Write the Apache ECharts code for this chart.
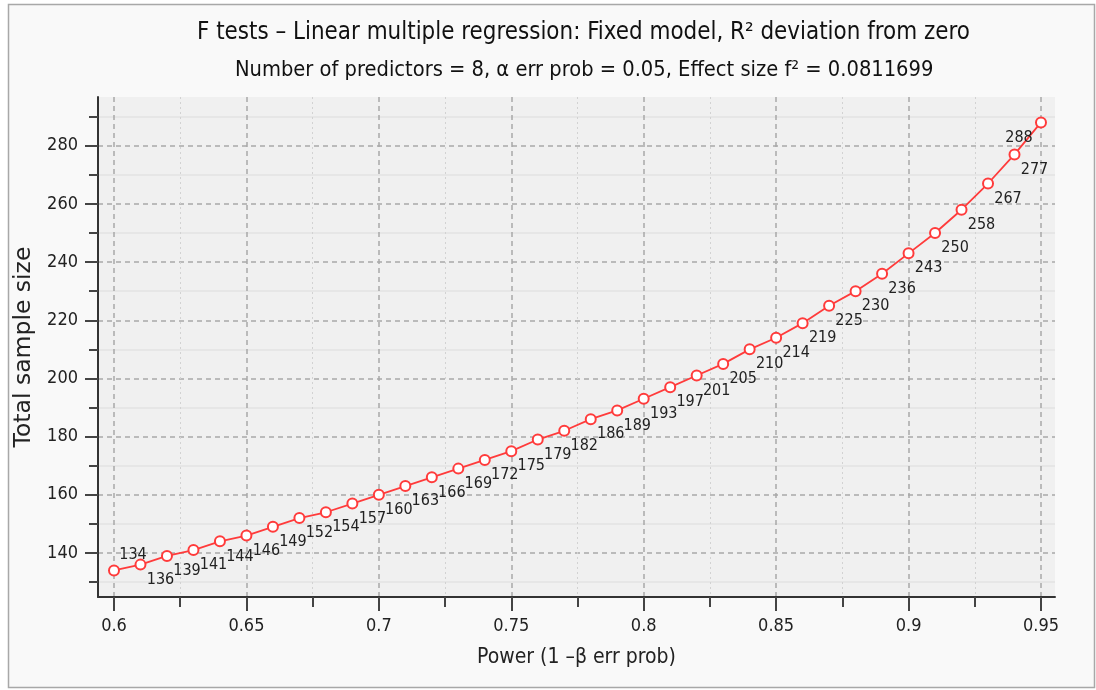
<!DOCTYPE html>
<html>
<head>
<meta charset="utf-8">
<script src="https://cdn.jsdelivr.net/npm/echarts@6/dist/echarts.min.js"></script>
<style>html,body{margin:0;padding:0;background:#fff;}#c{width:1096px;height:690px;}</style>
</head>
<body>
<div id="c"></div>
<script>
// ---- data ----
const powers = [0.60,0.61,0.62,0.63,0.64,0.65,0.66,0.67,0.68,0.69,0.70,0.71,0.72,0.73,0.74,0.75,0.76,0.77,0.78,0.79,0.80,0.81,0.82,0.83,0.84,0.85,0.86,0.87,0.88,0.89,0.90,0.91,0.92,0.93,0.94,0.95];
const sampleSizes = [134,136,139,141,144,146,149,152,154,157,160,163,166,169,172,175,179,182,186,189,193,197,201,205,210,214,219,225,230,236,243,250,258,267,277,288];
const xMajorTicks = [0.6,0.65,0.7,0.75,0.8,0.85,0.9,0.95];
const xMinorTicks = [0.625,0.675,0.725,0.775,0.825,0.875,0.925];
const yMajorTicks = [140,160,180,200,220,240,260,280];
const yMinorTicks = [130,150,170,190,210,230,250,270,290];
const titleText = 'F tests \u2013 Linear multiple regression: Fixed model, R\u00b2 deviation from zero';
const subtitleText = 'Number of predictors = 8, \u03b1 err prob = 0.05, Effect size f\u00b2 = 0.0811699';
const xName = 'Power (1 \u2013\u03b2 err prob)';
const yName = 'Total sample size';

const chart = echarts.init(document.getElementById('c'), null, {renderer: 'canvas'});
const FONT = 'DejaVu Sans';
const COND = 'DejaVu Sans Condensed';
const seriesData = powers.map((p, i) => ({value: [p, sampleSizes[i]]}));
const lastIdx = powers.length - 1;

const xMin = 0.59396, xMax = 0.95529, yMin = 124.87, yMax = 296.74;

chart.setOption({
  backgroundColor: '#ffffff',
  animation: false,
  graphic: [{
    type: 'rect', z: -10, silent: true,
    shape: {x: 8.5, y: 4.5, width: 1086, height: 683},
    style: {fill: '#f9f9f9', stroke: '#a8a8a8', lineWidth: 1.5}
  }],
  title: [
    {text: titleText, left: 192, top: 16,
     textStyle: {fontFamily: COND, fontSize: 23.9, fontWeight: 'normal', color: '#111'}},
    {text: subtitleText, left: 230, top: 54,
     textStyle: {fontFamily: COND, fontSize: 21.7, fontWeight: 'normal', color: '#111'}}
  ],
  grid: {left: 98, right: 41, top: 97, bottom: 93, show: true, backgroundColor: '#f0f0f0', borderWidth: 0, containLabel: false},
  xAxis: [{
    type: 'value', min: xMin, max: xMax,
    name: xName, nameLocation: 'middle', nameGap: 50,
    nameTextStyle: {fontFamily: COND, fontSize: 21, color: '#222'},
    axisLine: {show: true, onZero: false, lineStyle: {color: '#333', width: 2}},
    axisTick: {show: true, customValues: xMajorTicks, length: 14, lineStyle: {color: '#444', width: 2}},
    axisLabel: {show: true, customValues: xMajorTicks, margin: 20, fontFamily: COND, fontSize: 18, color: '#222', formatter: v => String(+v.toFixed(3))},
    splitLine: {show: true, lineStyle: {color: '#a8a8a8', width: 1.5, type: [5, 4]}},
    minorTick: {show: false}
  }, {
    type: 'value', min: xMin, max: xMax, gridIndex: 0, position: 'bottom',
    axisLine: {show: false},
    axisTick: {show: true, customValues: xMinorTicks, length: 10, lineStyle: {color: '#444', width: 2}},
    axisLabel: {show: false},
    splitLine: {show: true, lineStyle: {color: '#d2d2d2', width: 1, type: [2, 3]}}
  }],
  yAxis: [{
    type: 'value', min: yMin, max: yMax,
    name: yName, nameLocation: 'middle', nameGap: 57, nameRotate: 90,
    nameTextStyle: {fontFamily: FONT, fontSize: 23.5, color: '#222'},
    axisLine: {show: true, onZero: false, lineStyle: {color: '#333', width: 2}},
    axisTick: {show: true, customValues: yMajorTicks, length: 13, lineStyle: {color: '#444', width: 2}},
    axisLabel: {show: true, customValues: yMajorTicks, margin: 20, fontFamily: COND, fontSize: 18, color: '#222'},
    splitLine: {show: true, lineStyle: {color: '#a8a8a8', width: 1.5, type: [5, 4]}}
  }, {
    type: 'value', min: yMin, max: yMax, gridIndex: 0, position: 'left',
    axisLine: {show: false},
    axisTick: {show: true, customValues: yMinorTicks, length: 9, lineStyle: {color: '#444', width: 2}},
    axisLabel: {show: false},
    splitLine: {show: true, lineStyle: {color: '#e3e3e3', width: 1.5, type: 'solid'}}
  }],
  series: [{
    type: 'line', xAxisIndex: 0, yAxisIndex: 0,
    data: seriesData,
    symbol: 'circle', symbolSize: 10, showAllSymbol: true,
    lineStyle: {color: '#ff3b3b', width: 1.8},
    itemStyle: {color: '#ffffff', borderColor: '#ff3b3b', borderWidth: 2},
    label: {show: true, position: 'inside', fontFamily: COND, fontSize: 16, color: '#222',
            formatter: p => String(p.value[1])},
    labelLayout: function (params) {
      if (params.dataIndex === 0) return {dx: 19, dy: -16, hideOverlap: false};
      if (params.dataIndex === lastIdx) return {dx: -22, dy: 15, hideOverlap: false};
      return {dx: 20, dy: 15, hideOverlap: false};
    },
    emphasis: {disabled: true},
    z: 5
  }]
});
</script>
</body>
</html>
